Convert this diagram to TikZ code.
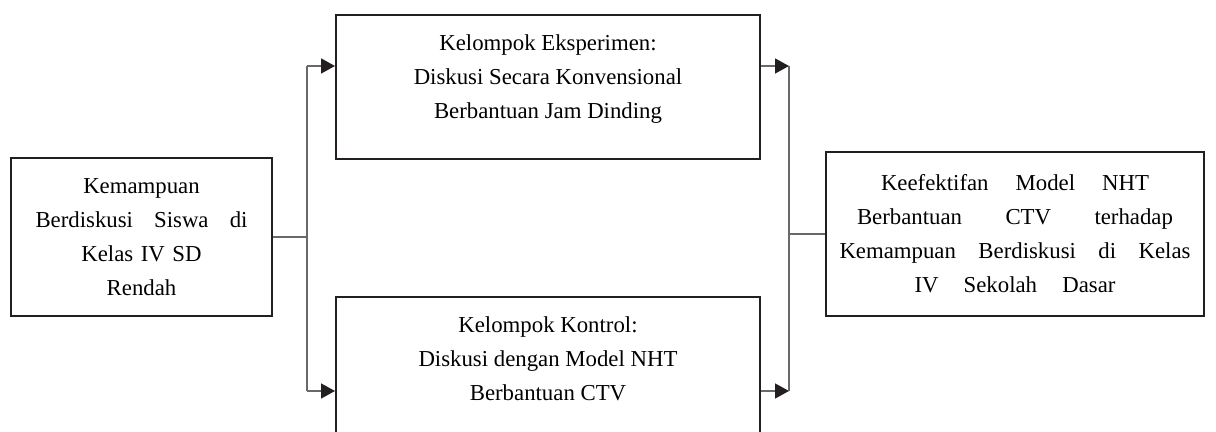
\documentclass[tikz,border=0pt]{standalone}
\usepackage{fontspec}
\setmainfont{Liberation Serif}
\usetikzlibrary{arrows.meta,positioning}
\definecolor{ink}{RGB}{35,31,32}
\definecolor{wire}{RGB}{105,105,105}
\newcommand{\isikelompok}[1]{\parbox[c][72pt][t]{212pt}{\centering\vspace*{10pt}#1}}
\newcommand{\renggang}[2]{\makebox[#1][s]{\spaceskip=0.25em plus 1fil\relax #2}}

\begin{document}
\begin{tikzpicture}[x=0.5pt, y=-0.5pt,
      box/.style={draw=ink, line width=1pt, align=center, inner xsep=0pt, font=\fontsize{11.4}{17}\selectfont},
      luar/.style={box, anchor=north west},
      grup/.style={box, inner sep=0pt, anchor=north},
      wire/.style={draw=wire, line width=0.8pt},
      arr/.style={-{Triangle[length=7pt, width=7.5pt, color=ink]}, line width=0.8pt, color=wire}
    ]
      \useasboundingbox (0,0) rectangle (1216,432);
      \node[luar, text width=130.5pt, minimum height=79pt] (kemampuan) at (10,157)
        {Kemampuan\\\renggang{106pt}{Berdiskusi Siswa di}\\Kelas IV SD\\Rendah};
      \node[grup] (eksperimen) at (548,14)
        {\isikelompok{Kelompok Eksperimen:\\Diskusi Secara Konvensional\\Berbantuan Jam Dinding}};
      \node[grup] (kontrol) at (548,296)
        {\isikelompok{Kelompok Kontrol:\\Diskusi dengan Model NHT\\Berbantuan CTV}};
      \node[luar, text width=189pt, minimum height=82pt] (keefektifan) at (825,151)
        {\renggang{134pt}{Keefektifan Model NHT}\\\renggang{158pt}{Berbantuan CTV terhadap}\\
         \renggang{175.5pt}{Kemampuan Berdiskusi di Kelas}\\\renggang{100.5pt}{IV Sekolah Dasar}};
      \coordinate (bagiA) at (307,66);
      \coordinate (bagiB) at (307,391);
      \coordinate (gabungA) at (789,66);
      \coordinate (gabungB) at (789,391);
      % kiri: dari kemampuan ke dua kelompok
      \draw[wire] (kemampuan.east) -- (kemampuan.east -| bagiA);
      \draw[wire] (bagiA) -- (bagiB);
      \draw[arr] (bagiA) -- (eksperimen.west |- bagiA);
      \draw[arr] (bagiB) -- (kontrol.west |- bagiB);
      % kanan: dua kelompok ke keefektifan
      \draw[arr] (eksperimen.east |- gabungA) -- (gabungA);
      \draw[arr] (kontrol.east |- gabungB) -- (gabungB);
      \draw[wire] (gabungA) -- (gabungB);
      \draw[wire] (keefektifan.west -| gabungA) -- (keefektifan.west);
    \end{tikzpicture}
\end{document}
